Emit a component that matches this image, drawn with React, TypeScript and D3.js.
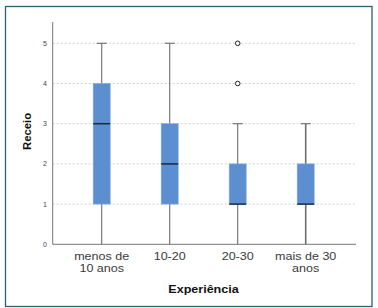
import React from "react";
import * as d3 from "d3";

const categories = ["menos de\n10 anos", "10-20", "20-30", "mais de 30\nanos"];
const whiskerLow = [0, 0, 0, 0];
const q1 = [1, 1, 1, 1];
const medians = [3, 2, 1, 1];
const q3 = [4, 3, 2, 2];
const whiskerHigh = [5, 5, 3, 3];
const outliers: number[][] = [[], [], [4, 5], []];
const yTicks = [0, 1, 2, 3, 4, 5];

export default function App() {
  const W = 378, H = 308;
  const y = d3.scaleLinear().domain([0, 5]).range([244.3, 43.3]);
  const x = d3.scalePoint<string>().domain(categories).range([101.7, 305.7]);
  const xLeft = 52.7, xRight = 356;
  const boxW = 17, capW = 10;
  const sx = 1.12;

  return (
    <svg width={W} height={H} style={{ position: "absolute", left: 0, top: 0, fontFamily: "'Liberation Sans', Arial, sans-serif" }}>
      <rect x={0} y={0} width={W} height={H} fill="#fff" />
      <rect x={5.5} y={6.5} width={366.5} height={300} fill="none" stroke="#2b5f75" strokeWidth={1.3} />
      {yTicks.filter(t => t > 0).map(t => (
        <line key={t} x1={xLeft} x2={xRight} y1={y(t)} y2={y(t)} stroke="#c8c8c8" strokeWidth={0.8} strokeDasharray="2,2" />
      ))}
      {yTicks.map(t => (
        <text key={t} x={47} y={y(t)} dy="0.35em" fontSize={7} fill="#444" textAnchor="end">{t}</text>
      ))}
      <line x1={xLeft} x2={xLeft} y1={22} y2={y(0)} stroke="#777" strokeWidth={1} />
      <line x1={xLeft} x2={xRight} y1={y(0)} y2={y(0)} stroke="#777" strokeWidth={1} />
      {categories.map((c, i) => {
        const cx = x(c)!;
        const lines = c.split("\n");
        return (
          <g key={c}>
            <line x1={cx} x2={cx} y1={y(whiskerLow[i])} y2={y(q1[i])} stroke="#6d6d6d" strokeWidth={i === 3 ? 1.6 : 1.1} />
            <line x1={cx} x2={cx} y1={y(q3[i])} y2={y(whiskerHigh[i])} stroke="#6d6d6d" strokeWidth={i === 3 ? 1.6 : 1.1} />
            <line x1={cx - capW / 2} x2={cx + capW / 2} y1={y(whiskerHigh[i])} y2={y(whiskerHigh[i])} stroke="#6d6d6d" strokeWidth={1.1} />
            <rect x={cx - boxW / 2} y={y(q3[i])} width={boxW} height={y(q1[i]) - y(q3[i])} fill="#5b8fcf" stroke="#7ea9dd" strokeWidth={0.6} />
            <line x1={cx - boxW / 2} x2={cx + boxW / 2} y1={y(medians[i])} y2={y(medians[i])} stroke="#152a45" strokeWidth={1.5} />
            {outliers[i].map((o, j) => (
              <circle key={j} cx={cx} cy={y(o)} r={2.3} fill="#fff" stroke="#222" strokeWidth={1} />
            ))}
            {lines.map((l, k) => (
              <text key={k} transform={`translate(${cx},${259.8 + k * 11.8}) scale(${sx},1)`} fontSize={11.2} fill="#3a3a3a" textAnchor="middle">{l}</text>
            ))}
          </g>
        );
      })}
      <text transform={`translate(203.5,292.5) scale(${sx},1)`} fontSize={11.2} fontWeight="bold" fill="#111" textAnchor="middle">Experiência</text>
      <text transform="translate(30.5,131.5) rotate(-90)" fontSize={11.3} fontWeight="bold" fill="#111" textAnchor="middle">Receio</text>
    </svg>
  );
}
